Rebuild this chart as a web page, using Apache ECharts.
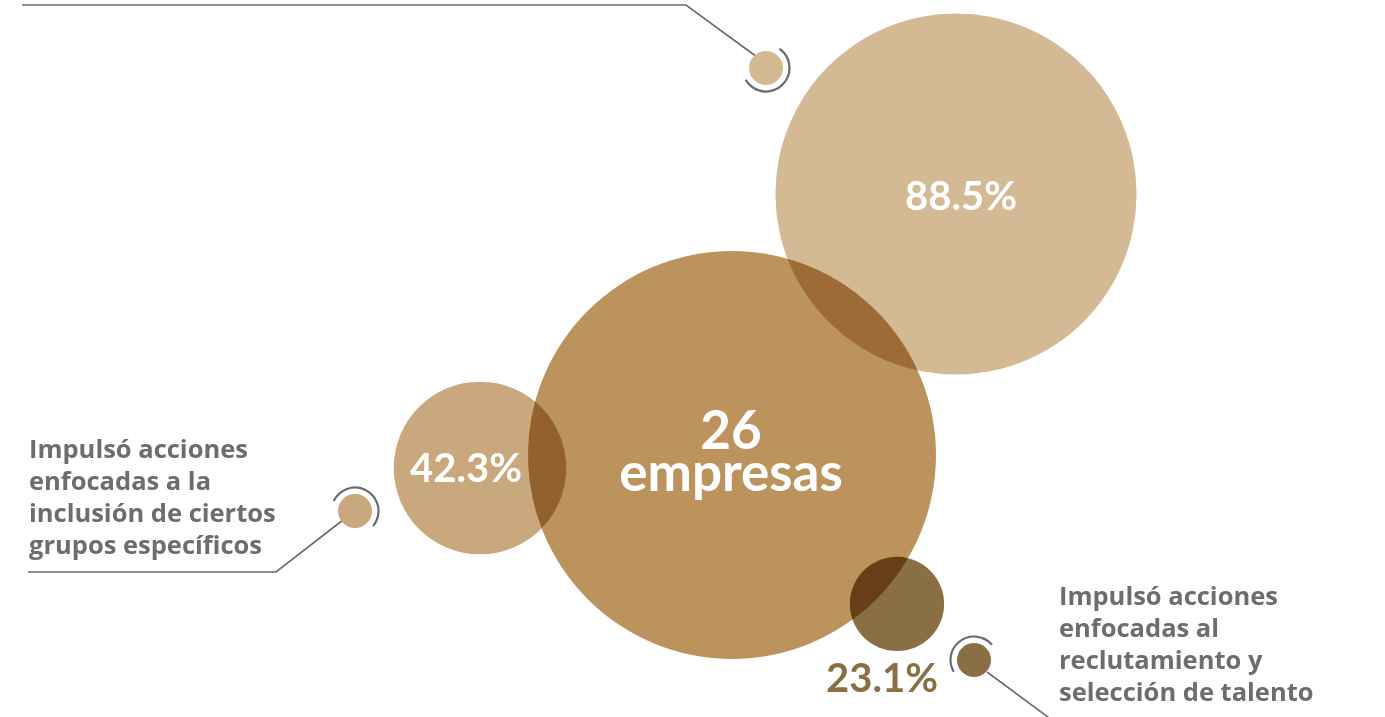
<!DOCTYPE html>
<html>
<head>
<meta charset="utf-8">
<script src="https://cdn.jsdelivr.net/npm/echarts@6/dist/echarts.min.js"></script>
<style>
html,body{margin:0;padding:0;background:#fff;}
#chart{width:1385px;height:717px;}
</style>
</head>
<body>
<div id="chart"></div>
<script>
// ---- data ----
const bubbleNames = ['Total', 'Políticas', 'Grupos específicos', 'Reclutamiento'];
const bubbleValues = [100, 88.5, 42.3, 23.1];
const bubbleX = [732, 956, 480, 897];
const bubbleY = [455, 194, 468, 604];
const bubbleLabels = ['26\nempresas', '88.5%', '42.3%', '23.1%'];
const labelX = [731, 961, 466, 882];
const labelY = [453, 197, 469, 679];

const markerX = [766, 355, 974];
const markerY = [68, 511, 660];
const markerSeries = [1, 2, 3];
const arcStart = [-55, 205, -40];
const arcEnd = [150, 40, 150];
const arcClockwise = [true, true, false];

const leaderLines = [
  [[22, 5], [686, 5], [757, 57]],
  [[28, 572], [276, 572], [343, 520]],
  [[987, 672], [1052, 720]]
];

const noteTexts = [
  'Impulsó acciones\nenfocadas a la\ninclusión de ciertos\ngrupos específicos',
  'Impulsó acciones\nenfocadas al\nreclutamiento y\nselección de talento'
];
const noteX = [29, 1059];
const noteY = [435, 582];

const colors = ['#bc935c', '#d4b995', '#c8a87c', '#8a6e44'];
const labelColors = ['#ffffff', '#ffffff', '#ffffff', '#8a6e44'];
const radiusPerUnit = 2.04;
const FONT = 'Lato';
const NOTE_FONT = 'Open Sans';

function hexToRgb(h) {
  return [parseInt(h.slice(1, 3), 16), parseInt(h.slice(3, 5), 16), parseInt(h.slice(5, 7), 16)];
}
function multiplyColor(a, b) {
  const x = hexToRgb(a), y = hexToRgb(b);
  return 'rgb(' + x.map((v, k) => Math.round(v * y[k] / 255)).join(',') + ')';
}
function norm(t) { t = t % (2 * Math.PI); return t < 0 ? t + 2 * Math.PI : t; }
function arcCmd(C, r, P, Q, Pend) {
  const t1 = Math.atan2(P[1] - C[1], P[0] - C[0]);
  const tq = Math.atan2(Q[1] - C[1], Q[0] - C[0]);
  const t2 = Math.atan2(Pend[1] - C[1], Pend[0] - C[0]);
  const dq = norm(tq - t1), d2 = norm(t2 - t1);
  let sweep, large;
  if (dq < d2) { sweep = 1; large = d2 > Math.PI ? 1 : 0; }
  else { sweep = 0; large = (2 * Math.PI - d2) > Math.PI ? 1 : 0; }
  return 'A' + r + ' ' + r + ' 0 ' + large + ' ' + sweep + ' ' + Pend[0] + ' ' + Pend[1];
}
function lensPath(A, rA, B, rB) {
  const dx = B[0] - A[0], dy = B[1] - A[1];
  const d = Math.sqrt(dx * dx + dy * dy);
  if (d >= rA + rB || d <= Math.abs(rA - rB)) return null;
  const ux = dx / d, uy = dy / d;
  const a = (d * d + rA * rA - rB * rB) / (2 * d);
  const h = Math.sqrt(Math.max(rA * rA - a * a, 0));
  const M = [A[0] + a * ux, A[1] + a * uy];
  const P1 = [M[0] - h * uy, M[1] + h * ux];
  const P2 = [M[0] + h * uy, M[1] - h * ux];
  const QA = [A[0] + rA * ux, A[1] + rA * uy];
  const QB = [B[0] - rB * ux, B[1] - rB * uy];
  return 'M' + P1[0] + ' ' + P1[1] + ' ' + arcCmd(A, rA, P1, QA, P2) + ' ' + arcCmd(B, rB, P2, QB, P1) + ' Z';
}

const chart = echarts.init(document.getElementById('chart'), null, {renderer: 'canvas'});

const bubbleData = bubbleValues.map((v, i) => [bubbleX[i], bubbleY[i], v, i]);
const pairData = [];
for (let i = 0; i < bubbleValues.length; i++) {
  for (let j = i + 1; j < bubbleValues.length; j++) {
    pairData.push([bubbleX[i], bubbleY[i], bubbleValues[i], bubbleX[j], bubbleY[j], bubbleValues[j], i, j]);
  }
}
const labelData = bubbleLabels.map((t, i) => [labelX[i], labelY[i], i]);
const markerData = markerX.map((x, i) => [x, markerY[i], i]);
const leaderData = leaderLines.map((pts, i) => [pts[0][0], pts[0][1], i]);
const noteData = noteTexts.map((t, i) => [noteX[i], noteY[i], i]);

const option = {
  backgroundColor: '#ffffff',
  animation: false,
  grid: {left: 0, right: 0, top: 0, bottom: 0},
  xAxis: {type: 'value', min: 0, max: 1385, show: false},
  yAxis: {type: 'value', min: 0, max: 717, inverse: true, show: false},
  series: [
    {
      type: 'custom',
      name: 'bubbles',
      z: 1,
      data: bubbleData,
      renderItem: function (params, api) {
        const i = api.value(3);
        const c = api.coord([api.value(0), api.value(1)]);
        const r = api.size([api.value(2) * radiusPerUnit, 0])[0];
        return {
          type: 'circle',
          shape: {cx: c[0], cy: c[1], r: r},
          style: {fill: colors[i]}
        };
      }
    },
    {
      type: 'custom',
      name: 'overlaps',
      z: 2,
      data: pairData,
      renderItem: function (params, api) {
        const A = api.coord([api.value(0), api.value(1)]);
        const rA = api.size([api.value(2) * radiusPerUnit, 0])[0];
        const B = api.coord([api.value(3), api.value(4)]);
        const rB = api.size([api.value(5) * radiusPerUnit, 0])[0];
        const p = lensPath(A, rA, B, rB);
        if (!p) return null;
        return {
          type: 'path',
          shape: {pathData: p},
          style: {fill: multiplyColor(colors[api.value(6)], colors[api.value(7)])}
        };
      }
    },
    {
      type: 'custom',
      name: 'leaders',
      z: 3,
      data: leaderData,
      renderItem: function (params, api) {
        const i = api.value(2);
        const pts = leaderLines[i].map(p => api.coord(p));
        return {
          type: 'polyline',
          shape: {points: pts},
          style: {stroke: '#6b6b6b', lineWidth: 1.6, fill: null}
        };
      }
    },
    {
      type: 'custom',
      name: 'markers',
      z: 4,
      data: markerData,
      renderItem: function (params, api) {
        const i = api.value(2);
        const c = api.coord([api.value(0), api.value(1)]);
        const s = api.size([17, 0])[0];
        const ra = api.size([23.5, 0])[0];
        return {
          type: 'group',
          children: [
            {
              type: 'circle',
              shape: {cx: c[0], cy: c[1], r: s},
              style: {fill: colors[markerSeries[i]]}
            },
            {
              type: 'arc',
              shape: {
                cx: c[0], cy: c[1], r: ra,
                startAngle: arcStart[i] * Math.PI / 180,
                endAngle: arcEnd[i] * Math.PI / 180,
                clockwise: arcClockwise[i]
              },
              style: {stroke: '#6b6b6b', lineWidth: 2.2, fill: null}
            }
          ]
        };
      }
    },
    {
      type: 'custom',
      name: 'labels',
      z: 5,
      data: labelData,
      renderItem: function (params, api) {
        const i = api.value(2);
        const c = api.coord([api.value(0), api.value(1)]);
        const big = i === 0;
        return {
          type: 'text',
          x: c[0], y: c[1],
          style: {
            text: bubbleLabels[i],
            fill: labelColors[i],
            fontFamily: FONT,
            fontWeight: 'bold',
            fontSize: big ? 53 : 40,
            lineHeight: big ? 42 : 40,
            align: 'center',
            verticalAlign: 'middle'
          }
        };
      }
    },
    {
      type: 'custom',
      name: 'notes',
      z: 5,
      data: noteData,
      renderItem: function (params, api) {
        const i = api.value(2);
        const c = api.coord([api.value(0), api.value(1)]);
        return {
          type: 'text',
          x: c[0], y: c[1],
          style: {
            text: noteTexts[i],
            fill: '#6d6d6d',
            fontFamily: NOTE_FONT,
            fontWeight: 'bold',
            fontSize: 25.5,
            lineHeight: 32,
            align: 'left',
            verticalAlign: 'top'
          }
        };
      }
    }
  ]
};
chart.setOption(option);
</script>
</body>
</html>
